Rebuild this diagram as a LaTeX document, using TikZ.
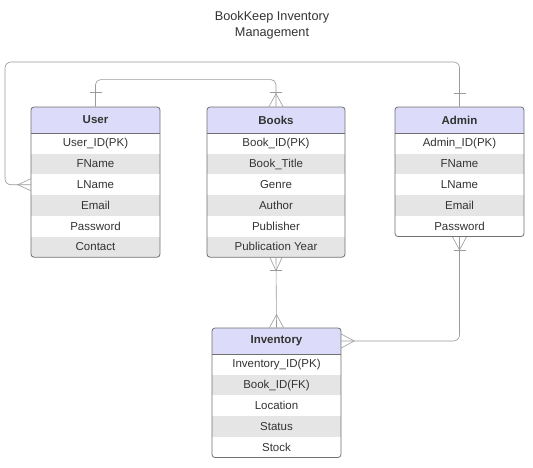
\documentclass[tikz,border=0pt]{standalone}
\usepackage{fontspec}
\setmainfont{Liberation Sans}
\usetikzlibrary{calc}
\definecolor{hdrfill}{HTML}{DCDCFA}
\definecolor{rowgray}{HTML}{E5E5E5}
\definecolor{bordercol}{HTML}{707070}
\definecolor{linecol}{HTML}{9A9A9A}
\definecolor{txt}{HTML}{333333}
\tikzset{
  hdr/.style={rectangle, fill=hdrfill, minimum height=26pt, inner sep=0pt, font=\fontsize{11.5}{13}\selectfont\bfseries, text=txt},
  rowcell/.style={rectangle, minimum height=20.7pt, inner sep=0pt, font=\fontsize{11.5}{13}\selectfont, text=txt},
  tbox/.style={rectangle, draw=bordercol, line width=0.8pt, rounded corners=3pt, inner sep=0pt},
  conn/.style={draw=linecol, line width=0.6pt},
}
\newcommand\ertable[6]{%
  \foreach \r [count=\n] in {#6} {\xdef\ernrows{\n}}%
  \pgfmathsetmacro\erW{#4-#2}%
  \pgfmathsetmacro\erB{#3+26+\ernrows*20.7}%
  \pgfmathsetmacro\erH{\erB-#3}%
  \pgfmathsetmacro\erC{(#2+#4)/2}%
  \begin{scope}
    \clip[rounded corners=3pt] (#2,#3) rectangle (#4,\erB);
    \node[hdr, minimum width=\erW pt] (#1-h) at (\erC,{#3+13}) {#5};
    \foreach \r [count=\n] in {#6} {%
      \ifodd\n\def\rf{white}\else\def\rf{rowgray}\fi
      \node[rowcell, fill=\rf, minimum width=\erW pt] (#1-\n) at (\erC,{#3+26+(\n-0.5)*20.7}) {\r};
    }
  \end{scope}
  \draw[draw=bordercol, line width=0.8pt] (#1-h.south west) -- (#1-h.south east);
  \node[tbox, minimum width=\erW pt, minimum height=\erH pt] (#1) at (\erC,{(#3+\erB)/2}) {};
}
\begin{document}
\begin{tikzpicture}[x=1pt,y=-1pt]
\fill[white] (0,0) rectangle (533,468);
\useasboundingbox (0,0) rectangle (533,468);

\node[font=\fontsize{12.7}{16}\selectfont, text=txt, align=center] (title) at (272,25) {BookKeep Inventory\\Management};

\ertable{user}{31}{107}{160}{User}{User\_ID(PK),FName,LName,Email,Password,Contact}
\ertable{books}{207}{107}{345}{Books}{Book\_ID(PK),Book\_Title,Genre,Author,Publisher,Publication Year}
\ertable{admin}{395}{107}{524}{Admin}{Admin\_ID(PK),FName,LName,Email,Password}
\ertable{inventory}{212}{328}{341}{Inventory}{Inventory\_ID(PK),Book\_ID(FK),Location,Status,Stock}

% User -- Books
\draw[conn, rounded corners=5pt] (user.north) -- ($(user.north)+(0,-27)$) -| (books.north);
\draw[conn] ($(user.north)+(-6,-14)$) -- ++(12,0);
\draw[conn] ($(books.north)+(-6,-14)$) -- ++(12,0);
\draw[conn] ($(books.north)+(-7,0)$) -- ($(books.north)+(0,-13)$) -- ($(books.north)+(7,0)$);

% User -- Admin (outer loop)
\coordinate (loopTL) at (5,62);
\draw[conn, rounded corners=6pt] (user-3.west) -| (loopTL) -| (admin.north);
\draw[conn] ($(user-3.west)+(0,-6)$) -- ($(user-3.west)+(-13,0)$) -- ($(user-3.west)+(0,6)$);
\draw[conn] ($(admin.north)+(-6,-13)$) -- ++(12,0);

% Books -- Inventory
\draw[conn] (books.south) -- (inventory.north);
\draw[conn] ($(books.south)+(-6,0)$) -- ($(books.south)+(0,13)$) -- ($(books.south)+(6,0)$);
\draw[conn] ($(books.south)+(-6,13)$) -- ++(12,0);
\draw[conn] ($(inventory.north)+(-7,0)$) -- ($(inventory.north)+(0,-13)$) -- ($(inventory.north)+(7,0)$);

% Admin -- Inventory
\draw[conn, rounded corners=6pt] (admin.south) |- (inventory-h.east);
\draw[conn] ($(admin.south)+(-7,0)$) -- ($(admin.south)+(0,13)$) -- ($(admin.south)+(7,0)$);
\draw[conn] ($(admin.south)+(-6,13)$) -- ++(12,0);
\draw[conn] ($(inventory-h.east)+(0,-7)$) -- ($(inventory-h.east)+(13,0)$) -- ($(inventory-h.east)+(0,7)$);
\end{tikzpicture}
\end{document}
